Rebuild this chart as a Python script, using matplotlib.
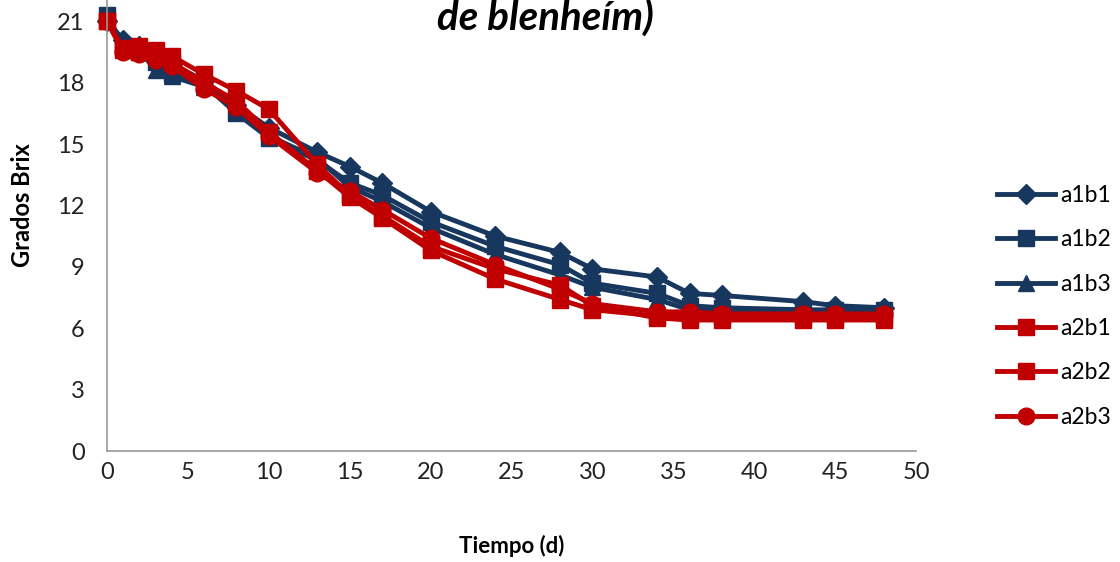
import matplotlib.pyplot as plt

# Tiempo (d)
dias = [0, 1, 2, 3, 4, 6, 8, 10, 13, 15, 17, 20, 24, 28, 30, 34, 36, 38, 43, 45, 48]

# Grados Brix por tratamiento
a1b1 = [21.0, 20.1, 19.8, 19.3, 18.9, 18.1, 16.9, 15.8, 14.6, 13.9, 13.1, 11.7, 10.5, 9.7, 8.9, 8.5, 7.7, 7.6, 7.3, 7.1, 7.0]
a1b2 = [21.3, 19.8, 19.5, 19.0, 18.4, 17.9, 16.5, 15.3, 14.2, 13.1, 12.5, 11.2, 10.0, 9.1, 8.2, 7.7, 7.1, 7.0, 6.9, 6.9, 6.9]
a1b3 = [21.1, 20.0, 19.6, 18.6, 18.3, 17.8, 16.7, 15.4, 14.3, 12.9, 12.2, 10.9, 9.6, 8.6, 8.0, 7.4, 6.9, 6.9, 6.9, 6.8, 6.8]
a2b1 = [21.0, 19.7, 19.8, 19.6, 19.3, 18.4, 17.6, 16.7, 14.0, 12.5, 11.5, 10.0, 8.9, 8.1, 7.1, 6.5, 6.4, 6.4, 6.4, 6.4, 6.4]
a2b2 = [21.0, 19.6, 19.5, 19.3, 19.0, 18.0, 17.1, 15.6, 13.7, 12.4, 11.4, 9.8, 8.4, 7.4, 6.9, 6.6, 6.6, 6.6, 6.6, 6.6, 6.6]
a2b3 = [21.0, 19.5, 19.4, 19.1, 18.8, 17.7, 16.8, 15.4, 13.6, 12.7, 11.8, 10.4, 9.1, 7.9, 7.2, 6.8, 6.8, 6.7, 6.7, 6.7, 6.7]

series = [("a1b1", a1b1), ("a1b2", a1b2), ("a1b3", a1b3),
          ("a2b1", a2b1), ("a2b2", a2b2), ("a2b3", a2b3)]

azul = "#17375E"
rojo = "#C00000"
estilos = {
    "a1b1": (azul, "D", 10),
    "a1b2": (azul, "s", 11),
    "a1b3": (azul, "^", 12),
    "a2b1": (rojo, "s", 11),
    "a2b2": (rojo, "s", 11),
    "a2b3": (rojo, "o", 12),
}

plt.rcParams["font.family"] = ["Lato", "DejaVu Sans"]

fig = plt.figure(figsize=(11.2, 5.62), dpi=100)
# el grafico original esta recortado arriba: el eje sigue por encima de 21
ax = fig.add_axes([0.0955, 0.1975, 0.7225, 0.874])

for nombre, valores in series:
    color, marca, tam = estilos[nombre]
    ax.plot(dias, valores, color=color, marker=marca, markersize=tam,
            linewidth=3.5, label=nombre, clip_on=False)

ax.set_xlim(0, 50)
ax.set_ylim(0, 24)
ax.set_xticks(range(0, 51, 5))
ax.set_yticks(range(0, 22, 3))
ax.tick_params(length=0, labelsize=17, colors="#222222", pad=8)
ax.tick_params(axis="y", pad=16)

for lado in ["top", "right"]:
    ax.spines[lado].set_visible(False)
for lado in ["left", "bottom"]:
    ax.spines[lado].set_color("#999999")
    ax.spines[lado].set_linewidth(1.2)

ax.set_xlabel("Tiempo (d)", fontsize=16, fontweight="bold", labelpad=37)
ax.set_ylabel("Grados Brix", fontsize=17, fontweight="bold", labelpad=17)

fig.text(0.487, 0.947, "de blenheím)", fontsize=29, fontweight="bold",
         fontstyle="italic", ha="center", va="baseline")

ax.legend(loc="center left", bbox_to_anchor=(0.872, 0.455),
          bbox_transform=fig.transFigure, frameon=False, fontsize=16.5,
          labelspacing=1.02, handlelength=2.5, handletextpad=0.25)

fig.savefig("out.png", dpi=100)
